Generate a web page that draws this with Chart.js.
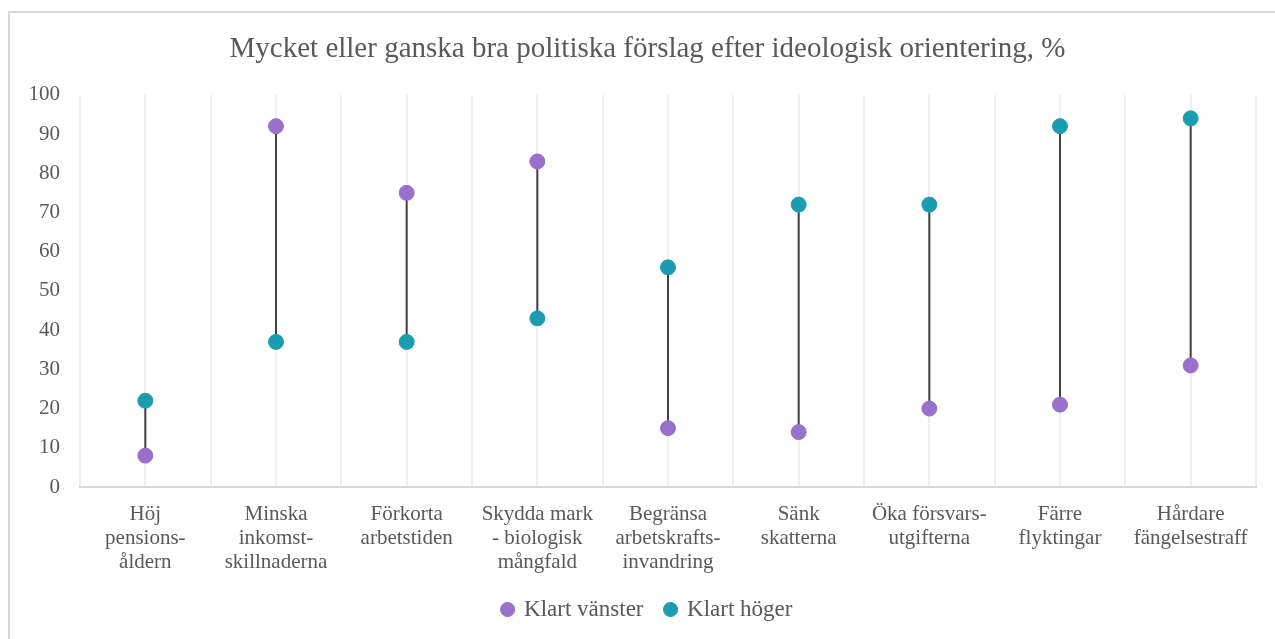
<!DOCTYPE html>
<html>
<head>
<meta charset="utf-8">
<title>Mycket eller ganska bra politiska förslag</title>
<script src="https://cdn.jsdelivr.net/npm/chart.js@4/dist/chart.umd.min.js"></script>
<style>
    html, body { margin: 0; padding: 0; background: #ffffff; overflow: hidden; }
    #frame {
        position: absolute; left: 8px; top: 11px;
        width: 1300px; height: 700px;
        border: 2px solid #d9d9d9;
    }
    #wrap { position: absolute; left: 0; top: 0; width: 1275px; height: 639px; overflow: hidden; }
</style>
</head>
<body>
<div id="frame"></div>
<div id="wrap"><canvas id="dumbbellChart" width="1295" height="639"></canvas></div>
<script>
    // kategorier (flerradiga etiketter som i originalet)
    var categories = [
        ["Höj", "pensions-", "åldern"],
        ["Minska", "inkomst-", "skillnaderna"],
        ["Förkorta", "arbetstiden"],
        ["Skydda mark", "- biologisk", "mångfald"],
        ["Begränsa", "arbetskrafts-", "invandring"],
        ["Sänk", "skatterna"],
        ["Öka försvars-", "utgifterna"],
        ["Färre", "flyktingar"],
        ["Hårdare", "fängelsestraff"]
    ];
    var klartVanster = [8, 92, 75, 83, 15, 14, 20, 21, 31];
    var klartHoger = [22, 37, 37, 43, 56, 72, 72, 92, 94];
    var yTicks = [0, 10, 20, 30, 40, 50, 60, 70, 80, 90, 100];

    var textColor = '#595959';
    var serif = "'Liberation Serif', 'DejaVu Serif', serif";

    function toPoints(values) {
        return values.map(function (v, i) { return { x: i, y: v }; });
    }

    // linje mellan vänster och höger för varje kategori
    var connectorPlugin = {
        id: 'connectors',
        beforeDatasetsDraw: function (chart) {
            var ctx = chart.ctx;
            var xs = chart.scales.x;
            var ys = chart.scales.y;
            ctx.save();
            ctx.strokeStyle = '#404040';
            ctx.lineWidth = 2;
            categories.forEach(function (c, i) {
                var px = xs.getPixelForValue(i);
                ctx.beginPath();
                ctx.moveTo(px, ys.getPixelForValue(klartVanster[i]));
                ctx.lineTo(px, ys.getPixelForValue(klartHoger[i]));
                ctx.stroke();
            });
            ctx.restore();
        }
    };

    var ctx = document.getElementById('dumbbellChart').getContext('2d');

    new Chart(ctx, {
        type: 'scatter',
        data: {
            datasets: [{
                label: 'Klart vänster',
                data: toPoints(klartVanster),
                backgroundColor: '#9970cc',
                borderColor: '#9970cc',
                pointRadius: 7.5,
                pointHoverRadius: 7.5,
                pointStyle: 'circle'
            }, {
                label: 'Klart höger',
                data: toPoints(klartHoger),
                backgroundColor: '#1b9db1',
                borderColor: '#1b9db1',
                pointRadius: 7.5,
                pointHoverRadius: 7.5,
                pointStyle: 'circle'
            }]
        },
        options: {
            responsive: false,
            animation: false,
            layout: { padding: { left: 0, right: 0, top: 0, bottom: 8 } },
            plugins: {
                tooltip: { enabled: false },
                title: {
                    display: true,
                    text: 'Mycket eller ganska bra politiska förslag efter ideologisk orientering, %',
                    color: textColor,
                    font: { family: serif, size: 29, weight: 'normal', lineHeight: 1.2 },
                    padding: { top: 32, bottom: 28 }
                },
                legend: {
                    position: 'bottom',
                    labels: {
                        color: textColor,
                        font: { family: serif, size: 23 },
                        usePointStyle: true,
                        boxWidth: 10,
                        boxHeight: 10,
                        padding: 22
                    }
                }
            },
            scales: {
                x: {
                    type: 'linear',
                    min: -0.5,
                    max: 8.5,
                    afterBuildTicks: function (scale) {
                        var t = [];
                        for (var v = -0.5; v <= 8.5; v += 0.5) t.push({ value: v });
                        scale.ticks = t;
                    },
                    afterFit: function (scale) { scale.height = 89; },
                    ticks: {
                        autoSkip: false,
                        maxRotation: 0,
                        color: textColor,
                        padding: 15,
                        font: { family: serif, size: 21, lineHeight: 1.15 },
                        callback: function (value) {
                            return Number.isInteger(value) ? categories[value] : '';
                        }
                    },
                    grid: { color: '#efefef', lineWidth: 2, drawTicks: false },
                    border: { color: '#d9d9d9', width: 2 }
                },
                y: {
                    min: 0,
                    max: 100,
                    afterBuildTicks: function (scale) {
                        scale.ticks = yTicks.map(function (v) { return { value: v }; });
                    },
                    afterFit: function (scale) { scale.width = 80; },
                    ticks: {
                        color: textColor,
                        padding: 20,
                        font: { family: serif, size: 21 }
                    },
                    grid: { display: false, drawTicks: false },
                    border: { display: false }
                },
                // tom axel till höger, så att titel och legend centreras som i originalet
                yRight: {
                    position: 'right',
                    display: true,
                    afterFit: function (scale) { scale.width = 39; },
                    ticks: { display: false },
                    grid: { display: false, drawTicks: false },
                    border: { display: false }
                }
            }
        },
        plugins: [connectorPlugin]
    });
</script>
</body>
</html>
